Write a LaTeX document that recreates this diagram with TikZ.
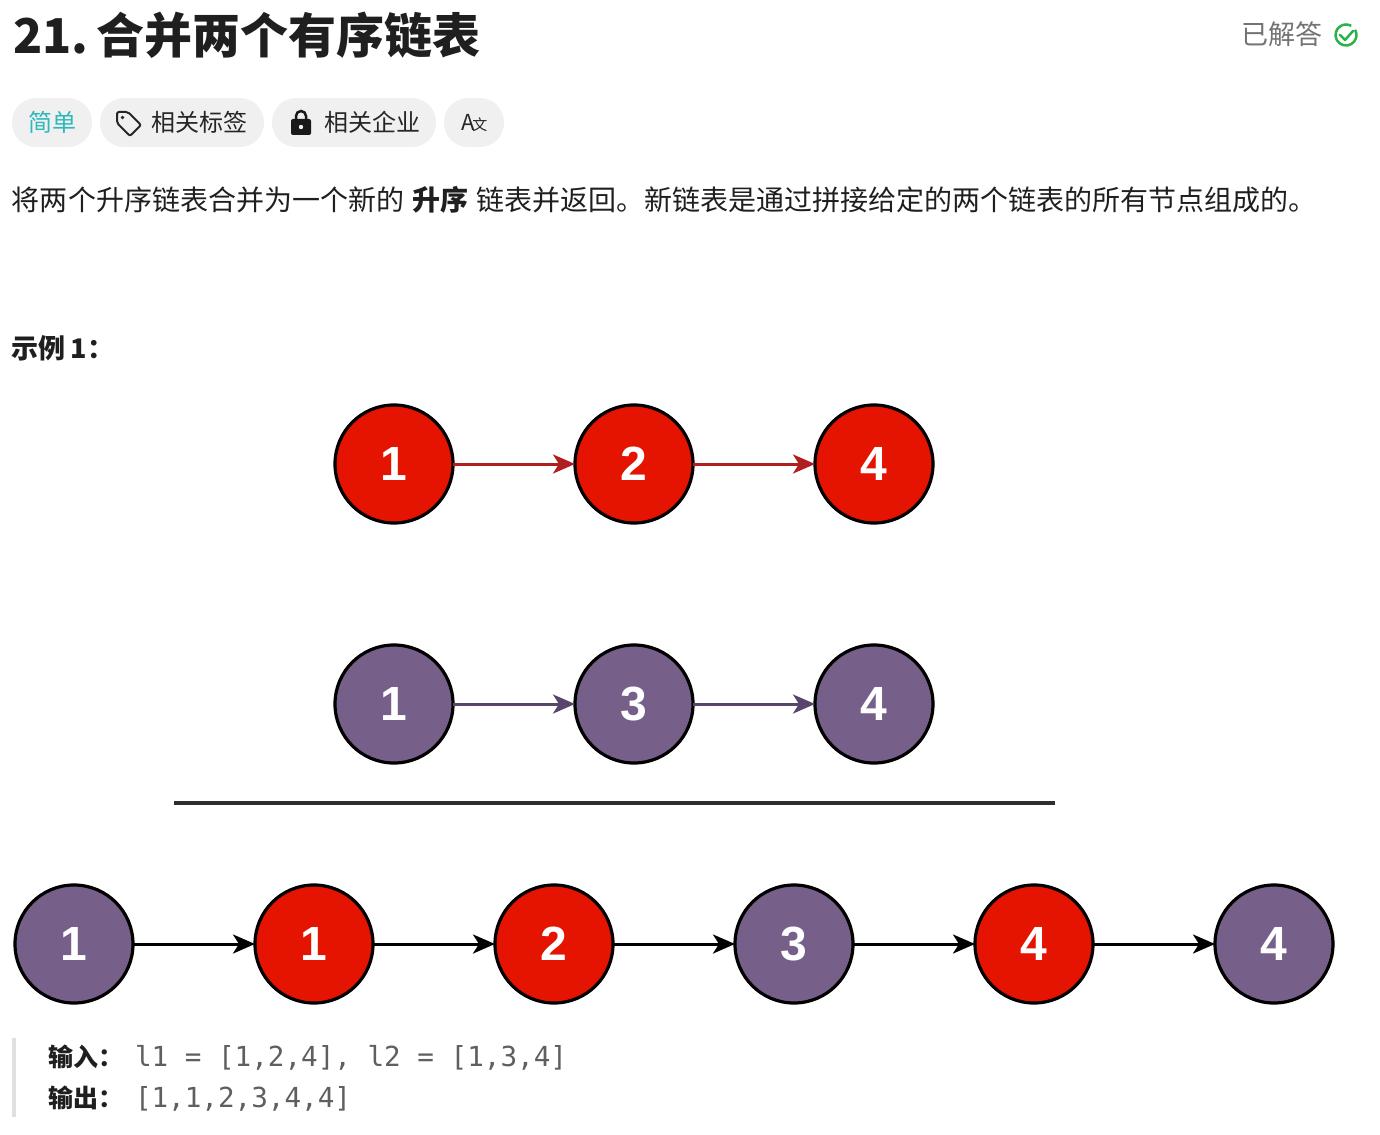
\documentclass[tikz,border=0pt]{standalone}
\usepackage{fontspec}
\setmainfont{Noto Sans CJK SC}
\newfontfamily\digitfont{Liberation Sans}
\newfontfamily\codefont{DejaVu Sans Mono}
\usetikzlibrary{arrows.meta}

\definecolor{nodered}{HTML}{E51400}
\definecolor{nodepurple}{HTML}{76608A}
\definecolor{arrowred}{HTML}{B21D1D}
\definecolor{arrowpurple}{HTML}{56466B}
\definecolor{pillgray}{HTML}{F0F0F0}
\definecolor{teal}{HTML}{2DB9BB}
\definecolor{solvedgreen}{HTML}{2CB24A}
\definecolor{codegray}{HTML}{5F5F5F}

\begin{document}
\begin{tikzpicture}[x=1pt, y=-1pt,
    every node/.style={inner sep=0pt, outer sep=0pt},
    listnode/.style={circle, draw=black, line width=3.2pt, minimum size=118pt, text=white, font=\digitfont\bfseries\fontsize{48}{48}\selectfont},
    rednode/.style={listnode, fill=nodered},
    purplenode/.style={listnode, fill=nodepurple},
    link/.style={line width=3pt, -{Stealth[length=22pt, width=19pt, inset=6pt]}},
    pill/.style={fill=pillgray, rounded corners=24pt},
    txt/.style={anchor=base west, font=\fontsize{24}{24}\selectfont}]

    \useasboundingbox (0,0) rectangle (1380,1134);

    % Kopf
    \node[anchor=base west, font=\bfseries\fontsize{48}{48}\selectfont, text=black!88] (title) at (13,54) {21.\,合并两个有序链表};
    \node[txt, font=\fontsize{27}{27}\selectfont, text=black!55] (solved) at (1241,45) {已解答};
    \coordinate (ok) at (1346,35);
    \draw[solvedgreen, line width=2.5pt] (ok) ++(-30:10.5) arc[start angle=-30, end angle=300, radius=10.5];
    \draw[solvedgreen, line width=2.5pt, line cap=round, line join=round] (1340,35) -- (1345,40) -- (1353,31);

    % Etiketten
    \fill[pill] (12,98) rectangle (92,147);
    \fill[pill] (100,98) rectangle (264,147);
    \fill[pill] (272,98) rectangle (436,147);
    \fill[pill] (444,98) rectangle (504,147);
    \node[txt, text=teal] (easy) at (28,132) {简单};
    \draw[line width=2pt, line join=round, black!85, rounded corners=2pt] (117,112) -- (128,112) -- (141,125) -- (130,136) -- (117,123) -- cycle;
    \fill[black!85] (122.5,117.5) circle (1.8);
    \node[txt, text=black!85] (tags) at (151,132) {相关标签};
    \draw[line width=2.5pt, black!90] (296,120) -- (296,116) arc[start angle=180, end angle=360, radius=5] -- (306,120);
    \fill[black!90, rounded corners=2pt] (291,119) rectangle (311,135);
    \fill[pillgray] (301,127) circle (2.2);
    \node[txt, text=black!85] (firms) at (324,132) {相关企业};
    \node[txt, text=black!85, font=\fontsize{22}{22}\selectfont] (lang) at (461,131) {A\kern-2pt{\fontsize{15}{15}\selectfont 文}};

    % Beschreibung
    \node[anchor=base west, font=\fontsize{28}{28}\selectfont, text=black!88] (desc) at (12,211)
        {将两个升序链表合并为一个新的\hspace{8pt}\textbf{升序}\hspace{8pt}链表并返回。新链表是通过拼接给定的两个链表的所有节点组成的。};
    \node[anchor=base west, font=\bfseries\fontsize{27}{27}\selectfont, text=black!88] (example) at (12,358) {示例\hspace{5pt}1：};

    % Liste 1
    \node[rednode] (r1) at (394,464) {1};
    \node[rednode] (r2) at (634,464) {2};
    \node[rednode] (r4) at (874,464) {4};
    \draw[link, arrowred] (r1) -- (r2);
    \draw[link, arrowred] (r2) -- (r4);

    % Liste 2
    \node[purplenode] (p1) at (394,704) {1};
    \node[purplenode] (p3) at (634,704) {3};
    \node[purplenode] (p4) at (874,704) {4};
    \draw[link, arrowpurple] (p1) -- (p3);
    \draw[link, arrowpurple] (p3) -- (p4);

    \coordinate (barl) at (174,803);
    \coordinate (barr) at (1055,803);
    \draw[line width=4pt, black!82] (barl) -- (barr);

    % Ergebnis
    \node[purplenode] (m1) at (74,944) {1};
    \node[rednode] (m2) at (314,944) {1};
    \node[rednode] (m3) at (554,944) {2};
    \node[purplenode] (m4) at (794,944) {3};
    \node[rednode] (m5) at (1034,944) {4};
    \node[purplenode] (m6) at (1274,944) {4};
    \draw[link] (m1) -- (m2);
    \draw[link] (m2) -- (m3);
    \draw[link] (m3) -- (m4);
    \draw[link] (m4) -- (m5);
    \draw[link] (m5) -- (m6);

    % Ein- und Ausgabe
    \fill[black!12] (12,1038) rectangle (16,1117);
    \node[anchor=base west, font=\bfseries\fontsize{25}{25}\selectfont, text=black!88] (inlabel) at (48,1066) {输入：};
    \node[anchor=base west, font=\codefont\fontsize{27.6}{27.6}\selectfont, text=codegray] (incode) at (135,1066) {l1 = [1,2,4], l2 = [1,3,4]};
    \node[anchor=base west, font=\bfseries\fontsize{25}{25}\selectfont, text=black!88] (outlabel) at (48,1107) {输出：};
    \node[anchor=base west, font=\codefont\fontsize{27.6}{27.6}\selectfont, text=codegray] (outcode) at (135,1107) {[1,1,2,3,4,4]};
\end{tikzpicture}
\end{document}
